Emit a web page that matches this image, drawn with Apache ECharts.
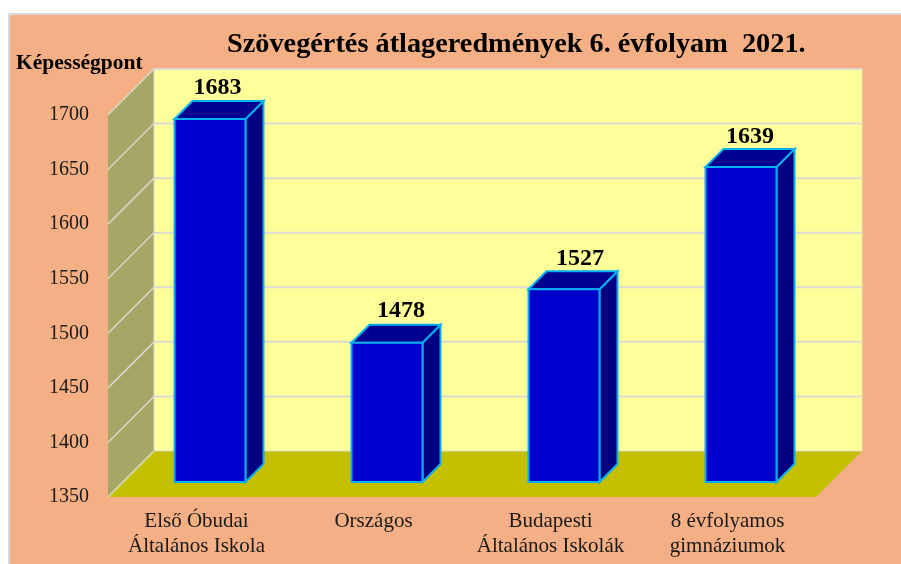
<!DOCTYPE html>
<html><head><meta charset="utf-8">
<style>html,body{margin:0;padding:0;background:#fff}#c{width:901px;height:564px}</style>
<script src="https://cdn.jsdelivr.net/npm/echarts@6/dist/echarts.min.js"></script>
</head><body><div id="c"></div>
<script>
const categories = ['Első Óbudai\nÁltalános Iskola', 'Országos', 'Budapesti\nÁltalános Iskolák', '8 évfolyamos\ngimnáziumok'];
const values = [1683, 1478, 1527, 1639];
const yMin = 1350, yMax = 1700, yStep = 50;
const yTicks = [1350, 1400, 1450, 1500, 1550, 1600, 1650, 1700];
const titleText = 'Szövegértés átlageredmények 6. évfolyam  2021.';
const yName = 'Képességpont';

const FONT = '"Liberation Serif","Times New Roman",serif';
const WALL_D = 46, BAR_D0 = 15, BAR_D1 = 33, BAR_W = 71;
const GRID = '#DADAD0';
const LABEL_NUDGE = [[0.5, 2], [7, 1], [9, 2], [2, 2.5]];

function poly(points, fill, stroke, lw) {
  return { type: 'polygon', shape: { points }, style: { fill, stroke: stroke || null, lineWidth: lw || 0 } };
}
function seg(x1, y1, x2, y2, stroke, lw) {
  return { type: 'line', shape: { x1, y1, x2, y2 }, style: { stroke, lineWidth: lw } };
}
function renderWalls(params, api) {
  const cs = params.coordSys, L = cs.x, R = cs.x + cs.width;
  const Y = v => api.coord([0, v])[1];
  const T = Y(yMax), B = Y(yMin), d = WALL_D;
  const kids = [
    poly([[L + d, T - d], [R + d, T - d], [R + d, B - d], [L + d, B - d]], '#FFFF99'),
    poly([[L, B], [L + d, B - d], [R + d, B - d], [R, B]], '#C4C000'),
    poly([[L, T], [L + d, T - d], [L + d, B - d], [L, B]], '#A6A667')
  ];
  yTicks.forEach(v => {
    const y = Y(v);
    if (v !== yMin) kids.push(seg(L + d, y - d, R + d, y - d, GRID, 2));
    kids.push(seg(L, y, L + d, y - d, GRID, 1.5));
  });
  kids.push(seg(L + d, T - d, L + d, B - d, GRID, 1));
  kids.push(seg(L + d, B - d, R + d, B - d, GRID, 1));
  kids.push(seg(R + d, T - d, R + d, B - d, '#E6E6B0', 1));
  return { type: 'group', children: kids };
}
function renderBar(params, api) {
  const c = api.value(0), v = api.value(1);
  const top = api.coord([c, v]), base = api.coord([c, yMin]);
  const x0 = top[0] - BAR_W / 2 + BAR_D0 - 1.5, x1 = x0 + BAR_W;
  const yT = top[1] - BAR_D0 + 0.5, yB = base[1] - BAR_D0;
  const k = BAR_D1 - BAR_D0, edge = '#00B0F0', lw = 2;
  const n = LABEL_NUDGE[params.dataIndex];
  return { type: 'group', children: [
    poly([[x1, yT], [x1 + k, yT - k], [x1 + k, yB - k], [x1, yB]], '#000080', edge, lw),
    poly([[x0, yT], [x0 + k, yT - k], [x1 + k, yT - k], [x1, yT]], '#000090', edge, lw),
    poly([[x0, yT], [x1, yT], [x1, yB], [x0, yB]], '#0000CC', edge, lw),
    { type: 'text', style: { x: x0 + (BAR_W + k) / 2 - 2 + n[0], y: yT - k - 15 + n[1], text: String(v), fill: '#000',
        font: 'bold 24px ' + FONT, align: 'center', verticalAlign: 'middle' } }
  ]};
}
const chart = echarts.init(document.getElementById('c'), null, { renderer: 'canvas' });
chart.setOption({
  backgroundColor: '#fff',
  animation: false,
  graphic: [{ type: 'rect', z: -10, shape: { x: 9, y: 14, width: 900, height: 560 },
    style: { fill: '#F4B084', stroke: '#D9D9D9', lineWidth: 2 } }],
  title: [
    { text: titleText, left: 222, top: 26, textStyle: { fontFamily: FONT, fontWeight: 'bold', fontSize: 28.3, color: '#000' } },
    { text: yName, left: 11, top: 47, textStyle: { fontFamily: FONT, fontWeight: 'bold', fontSize: 21.5, color: '#000' } }
  ],
  grid: { left: 108, right: 85, top: 115, bottom: 67 },
  xAxis: { type: 'category', data: categories,
    axisLine: { show: false }, axisTick: { show: false },
    axisLabel: { margin: 12, fontFamily: FONT, fontSize: 21, lineHeight: 25, color: '#1a1a1a', interval: 0 } },
  yAxis: { type: 'value', min: yMin, max: yMax, interval: yStep,
    axisLine: { show: false }, axisTick: { show: false }, splitLine: { show: false },
    axisLabel: { margin: 19, fontFamily: FONT, fontSize: 20, color: '#1a1a1a', formatter: v => String(v) } },
  series: [
    { type: 'custom', name: 'walls', renderItem: renderWalls, data: [[0, yMin]], clip: false, silent: true, z: 1 },
    { type: 'custom', name: 'bars', renderItem: renderBar, data: values.map((v, i) => [i, v]), clip: false, z: 2,
      encode: { x: 0, y: 1 } }
  ]
});
</script></body></html>
